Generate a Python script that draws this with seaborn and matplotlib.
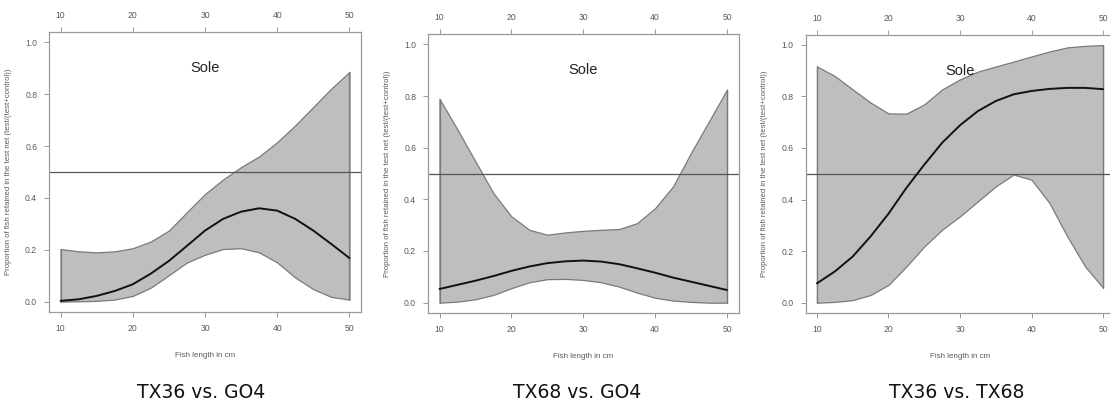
import matplotlib
matplotlib.use("Agg")
import matplotlib.pyplot as plt
import seaborn as sns
import pandas as pd
import numpy as np

sns.set_style("white")
plt.rcParams['font.family'] = ['Liberation Sans', 'DejaVu Sans']

length = [10, 12.5, 15, 17.5, 20, 22.5, 25, 27.5, 30, 32.5, 35, 37.5, 40, 42.5, 45, 47.5, 50]

# Panel 1: TX36 vs. GO4
p1_mean = [0.003, 0.009, 0.022, 0.041, 0.067, 0.108, 0.157, 0.215, 0.274, 0.319, 0.347, 0.360, 0.351, 0.319, 0.274, 0.222, 0.168]
p1_upper = [0.203, 0.194, 0.190, 0.194, 0.206, 0.232, 0.274, 0.345, 0.415, 0.471, 0.519, 0.560, 0.615, 0.680, 0.751, 0.822, 0.886]
p1_lower = [0.000, 0.001, 0.003, 0.008, 0.022, 0.054, 0.102, 0.151, 0.181, 0.203, 0.206, 0.190, 0.151, 0.093, 0.048, 0.018, 0.008]

# Panel 2: TX68 vs. GO4
p2_mean = [0.053, 0.069, 0.085, 0.103, 0.123, 0.140, 0.153, 0.160, 0.163, 0.159, 0.149, 0.133, 0.116, 0.097, 0.081, 0.065, 0.049]
p2_upper = [0.789, 0.670, 0.547, 0.424, 0.334, 0.282, 0.263, 0.272, 0.278, 0.282, 0.285, 0.308, 0.366, 0.450, 0.580, 0.702, 0.825]
p2_lower = [0.000, 0.004, 0.013, 0.030, 0.056, 0.079, 0.091, 0.092, 0.088, 0.079, 0.062, 0.039, 0.019, 0.008, 0.003, 0.000, 0.000]

# Panel 3: TX36 vs. TX68
p3_mean = [0.075, 0.121, 0.179, 0.257, 0.345, 0.445, 0.535, 0.620, 0.688, 0.743, 0.782, 0.808, 0.821, 0.829, 0.833, 0.833, 0.828]
p3_upper = [0.916, 0.879, 0.827, 0.776, 0.734, 0.733, 0.769, 0.827, 0.866, 0.896, 0.916, 0.935, 0.955, 0.974, 0.990, 0.996, 0.999]
p3_lower = [0.000, 0.003, 0.010, 0.030, 0.069, 0.140, 0.218, 0.283, 0.335, 0.393, 0.451, 0.497, 0.477, 0.387, 0.257, 0.140, 0.058]

titles = ["TX36 vs. GO4", "TX68 vs. GO4", "TX36 vs. TX68"]
species = "Sole"
xlabel = "Fish length in cm"
ylabel = "Proportion of fish retained in the test net (test/(test+control))"
xticks = [10, 20, 30, 40, 50]
yticks = [0.0, 0.2, 0.4, 0.6, 0.8, 1.0]

panels = [(p1_mean, p1_upper, p1_lower), (p2_mean, p2_upper, p2_lower), (p3_mean, p3_upper, p3_lower)]

W, H = 1110, 401
fig = plt.figure(figsize=(W / 100, H / 100), dpi=100)

# axes boxes in pixels: left, top, right, bottom
boxes = [(49, 32, 361, 312), (428, 34, 738.5, 313), (805.5, 34.5, 1114.5, 313)]
title_x = [201, 577, 957]

spine_c = "#9a9a9a"
text_c = "#5a5a5a"

for i, ((m, up, lo), (l, t, r, b)) in enumerate(zip(panels, boxes)):
    ax = fig.add_axes([l / W, (H - b) / H, (r - l) / W, (b - t) / H])
    ax.fill_between(length, lo, up, facecolor="#bebebe", edgecolor="#7a7a7a", linewidth=0.9, zorder=1)
    ax.plot([length[0], length[0]], [lo[0], up[0]], color="#7a7a7a", lw=0.9, zorder=1)
    ax.plot([length[-1], length[-1]], [lo[-1], up[-1]], color="#7a7a7a", lw=0.9, zorder=1)
    df = pd.DataFrame({"length": length, "p": m})
    sns.lineplot(data=df, x="length", y="p", ax=ax, color="#111111", lw=1.4, zorder=3)
    ax.axhline(0.5, color="#555555", lw=0.9, zorder=2)
    ax.set_xlim(8.4, 51.6)
    ax.set_ylim(-0.04, 1.04)
    ax.set_xticks(xticks)
    ax.set_yticks(yticks)
    ax.set_yticklabels([f"{v:.1f}" for v in yticks])
    ax.tick_params(axis="both", which="both", direction="out", length=3.5, width=0.7,
                   colors=spine_c, labelcolor=text_c, labelsize=6.2, pad=5,
                   top=True, labeltop=True, bottom=True, left=True)
    for s in ax.spines.values():
        s.set_color(spine_c)
        s.set_linewidth(0.9)
    ax.set_xlabel(xlabel, fontsize=5.8, color=text_c)
    ax.set_ylabel(ylabel, fontsize=5.6, color=text_c)
    ax.xaxis.set_label_coords(0.5, -40 / (b - t))
    ax.yaxis.set_label_coords(-37 / (r - l), 0.5)
    ax.text(30, 0.9, species, fontsize=10.5, color="#222222", ha="center", va="center", zorder=4)
    fig.text(title_x[i] / W, (H - 392) / H, titles[i], fontsize=13.5, family="DejaVu Sans",
             color="#111111", ha="center", va="center")

fig.savefig("out.png", dpi=100)
